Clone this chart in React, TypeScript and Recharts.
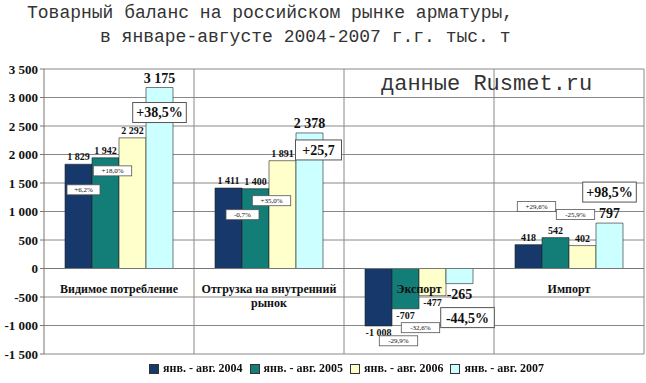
import { BarChart, Bar, XAxis, YAxis, CartesianGrid, Legend, LabelList, ReferenceLine } from 'recharts';

const categories = ['Видимое потребление', 'Отгрузка на внутренний рынок', 'Экспорт', 'Импорт'];
const seriesNames = ['янв. - авг. 2004', 'янв. - авг. 2005', 'янв. - авг. 2006', 'янв. - авг. 2007'];
const v2004 = [1829, 1411, -1008, 418];
const v2005 = [1942, 1400, -707, 542];
const v2006 = [2292, 1891, -477, 402];
const v2007 = [3175, 2378, -265, 797];
const ch2005 = ['+6,2%', '-0,7%', '-29,9%', '+29,6%'];
const ch2006 = ['+18,0%', '+35,0%', '-32,6%', '-25,9%'];
const ch2007 = ['+38,5%', '+25,7', '-44,5%', '+98,5%'];
const yTicks = [-1500, -1000, -500, 0, 500, 1000, 1500, 2000, 2500, 3000, 3500];

const W = 646;
const H = 383;
const X_AXIS_H = 2;
const M = { top: 69, right: 2, bottom: 29 - X_AXIS_H, left: 0 };
const Y_MIN = -1500;
const Y_MAX = 3500;
const ZERO_Y = M.top + ((H - M.top - M.bottom - X_AXIS_H) * Y_MAX) / (Y_MAX - Y_MIN);

const colors = ['#16386a', '#137d78', '#ffffcc', '#ccffff'];
const serif = '"Liberation Serif", "Times New Roman", serif';
const mono = '"Liberation Mono", "Courier New", monospace';

const data = categories.map((c, i) => ({
  name: c,
  s2004: v2004[i],
  s2005: v2005[i],
  s2006: v2006[i],
  s2007: v2007[i],
  c2005: ch2005[i],
  c2006: ch2006[i],
  c2007: ch2007[i],
}));

// box offsets from the bar end, per category
const boxOffsets: Record<string, [number, number][]> = {
  c2005: [[-22, 32], [-13, 26], [-7, 32], [-19, -31]],
  c2006: [[-20, 33], [-11, 40], [-12, 32], [-7, -31]],
  c2007: [[0, 25], [9, 17], [8, 34], [0, -31]],
};

const fmt = (v: number) => {
  const s = Math.abs(v).toString().replace(/\B(?=(\d{3})+(?!\d))/g, ' ');
  return v < 0 ? '-' + s : s;
};

const valueLabel = (big: boolean) => (props: any) => {
  const { x, y, width, height, value } = props;
  const cx = x + width / 2;
  const top = Math.min(y, y + height);
  const bottom = Math.max(y, y + height);
  const ty = value >= 0 ? top - (big ? 5 : 4) : bottom + (big ? 15 : 10);
  return (
    <text x={cx} y={ty} textAnchor="middle" fontFamily={serif} fontWeight="bold" fontSize={big ? 14 : 10} fill="#111">
      {fmt(value)}
    </text>
  );
};

const boxLabel = (key: string, big: boolean, vals: number[]) => (props: any) => {
  const { x, y, width, height, value, index } = props;
  const cx = x + width / 2;
  const end = vals[index] >= 0 ? Math.min(y, y + height) : Math.max(y, y + height);
  const [dx, dy] = boxOffsets[key][index];
  const px = cx + dx;
  const py = end + dy;
  const fs = big ? 14 : 7;
  const bw = big ? value.length * 7.6 + 8 : value.length * 5.4 + 6;
  const bh = big ? 20 : 10;
  return (
    <g>
      <rect x={px - bw / 2} y={py - bh / 2} width={bw} height={bh} fill="#fff" stroke="#555" strokeWidth={big ? 1 : 0.8} />
      <text x={px} y={py + fs * 0.35} textAnchor="middle" fontFamily={serif} fontWeight={big ? 'bold' : 'normal'} fontSize={fs} fill="#111">
        {value}
      </text>
    </g>
  );
};

const CategoryTick = (props: any) => {
  const { x, payload } = props;
  const words: string[] = payload.value.split(' ');
  const lines = payload.value.length > 22 ? [words.slice(0, 3).join(' '), words.slice(3).join(' ')] : [payload.value];
  return (
    <g>
      {lines.map((l, i) => (
        <text key={i} x={x} y={ZERO_Y + 24 + i * 14} textAnchor="middle" fontFamily={serif} fontWeight="bold" fontSize={12} fill="#111">
          {l}
        </text>
      ))}
    </g>
  );
};

const YTick = (props: any) => {
  const { x, y, payload } = props;
  return (
    <text x={x} y={y + 4.5} textAnchor="end" fontFamily={serif} fontWeight="bold" fontSize={13} fill="#111">
      {fmt(payload.value)}
    </text>
  );
};

const LegendContent = () => (
  <div style={{ display: 'flex', justifyContent: 'center', fontFamily: serif, fontWeight: 'bold', fontSize: 12, color: '#111' }}>
    {seriesNames.map((n, i) => (
      <span key={n} style={{ display: 'flex', alignItems: 'center', marginRight: 7 }}>
        <span style={{ width: 8, height: 8, background: colors[i], border: '1px solid #333', marginRight: 4 }} />
        {n}
      </span>
    ))}
  </div>
);

export default function App() {
  return (
    <div style={{ position: 'fixed', left: 0, top: 0, width: W, height: H, background: '#fff' }}>
      <div style={{ position: 'absolute', left: 27, top: 1, fontFamily: mono, fontSize: 18, color: '#333', whiteSpace: 'pre', lineHeight: '24px' }}>
        Товарный баланс на российском рынке арматуры,
      </div>
      <div style={{ position: 'absolute', left: 100, top: 25, fontFamily: mono, fontSize: 18, color: '#333', whiteSpace: 'pre', lineHeight: '24px' }}>
        в январе-августе 2004-2007 г.г. тыс. т
      </div>
      <BarChart width={W} height={H} data={data} margin={M} barCategoryGap="14%" barGap={0}>
        <CartesianGrid
          stroke="#888"
          horizontal
          vertical
          verticalCoordinatesGenerator={({ offset }: any) => [1, 2, 3, 4].map((k) => offset.left + (offset.width / 4) * k)}
        />
        <XAxis dataKey="name" height={X_AXIS_H} axisLine={false} tickLine={false} tick={<CategoryTick />} interval={0} />
        <YAxis
          width={44}
          domain={[Y_MIN, Y_MAX]}
          ticks={yTicks}
          interval={0}
          axisLine={{ stroke: '#777' }}
          tickLine={{ stroke: '#777' }}
          tickSize={4}
          tick={<YTick />}
        />
        <ReferenceLine y={0} stroke="#777" />
        <Legend verticalAlign="middle" layout="horizontal" wrapperStyle={{ top: 361, left: 27, width: W }} content={<LegendContent />} />
        <Bar dataKey="s2004" name={seriesNames[0]} fill={colors[0]} stroke="#222" strokeWidth={0.6} isAnimationActive={false}>
          <LabelList dataKey="s2004" content={valueLabel(false)} />
        </Bar>
        <Bar dataKey="s2005" name={seriesNames[1]} fill={colors[1]} stroke="#222" strokeWidth={0.6} isAnimationActive={false}>
          <LabelList dataKey="s2005" content={valueLabel(false)} />
          <LabelList dataKey="c2005" content={boxLabel('c2005', false, v2005)} />
        </Bar>
        <Bar dataKey="s2006" name={seriesNames[2]} fill={colors[2]} stroke="#222" strokeWidth={0.6} isAnimationActive={false}>
          <LabelList dataKey="s2006" content={valueLabel(false)} />
          <LabelList dataKey="c2006" content={boxLabel('c2006', false, v2006)} />
        </Bar>
        <Bar dataKey="s2007" name={seriesNames[3]} fill={colors[3]} stroke="#222" strokeWidth={0.6} isAnimationActive={false}>
          <LabelList dataKey="s2007" content={valueLabel(true)} />
          <LabelList dataKey="c2007" content={boxLabel('c2007', true, v2007)} />
        </Bar>
      </BarChart>
      <div style={{ position: 'absolute', left: 381, top: 72, fontFamily: mono, fontSize: 22, color: '#333', whiteSpace: 'pre', lineHeight: '26px' }}>
        данные Rusmet.ru
      </div>
    </div>
  );
}
